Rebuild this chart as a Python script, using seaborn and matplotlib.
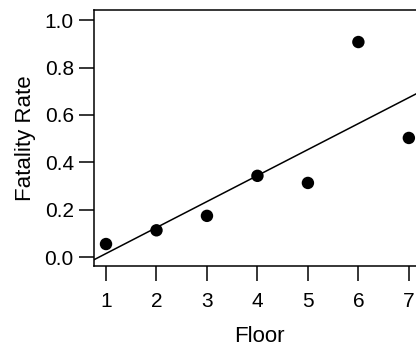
import matplotlib
matplotlib.use("Agg")
import matplotlib.pyplot as plt
import seaborn as sns
import pandas as pd

floors = [1, 2, 3, 4, 5, 6, 7]
fatality_rate = [0.055, 0.113, 0.174, 0.343, 0.313, 0.908, 0.503]
y_ticks = [0.0, 0.2, 0.4, 0.6, 0.8, 1.0]

df = pd.DataFrame({"Floor": floors, "Fatality Rate": fatality_rate})

sns.set_theme(style="ticks")
plt.rcParams["font.family"] = ["Liberation Sans", "DejaVu Sans"]

fig = plt.figure(figsize=(4.16, 3.47), dpi=100)
ax = fig.add_axes([94 / 416, 80.7 / 347, (424 - 94) / 416, 256 / 347])
ax.set_xlim(0.762, 7.3)
ax.set_ylim(-0.039, 1.042)

sns.regplot(data=df, x="Floor", y="Fatality Rate", ax=ax, ci=None, truncate=False,
            scatter_kws=dict(color="black", s=80, edgecolor="none", alpha=1),
            line_kws=dict(color="black", lw=1.1), color="black")

ax.set_xlim(0.762, 7.3)
ax.set_ylim(-0.039, 1.042)
ax.set_xticks(floors)
ax.set_yticks(y_ticks)
ax.set_yticklabels([f"{v:.1f}" for v in y_ticks])

for side in ["left", "top", "bottom"]:
    ax.spines[side].set_visible(True)
    ax.spines[side].set_linewidth(1.1)
    ax.spines[side].set_color("black")
ax.spines["right"].set_visible(False)

ax.tick_params(axis="both", direction="out", length=10.5, width=1.1, color="black",
               labelsize=15, labelcolor="black")
ax.tick_params(axis="x", pad=8)
ax.tick_params(axis="y", pad=4)
ax.set_xlabel("Floor", fontsize=16, color="black", labelpad=11)
ax.set_ylabel("Fatality Rate", fontsize=16, color="black", labelpad=6.5)

fig.savefig("out.png", dpi=100)
